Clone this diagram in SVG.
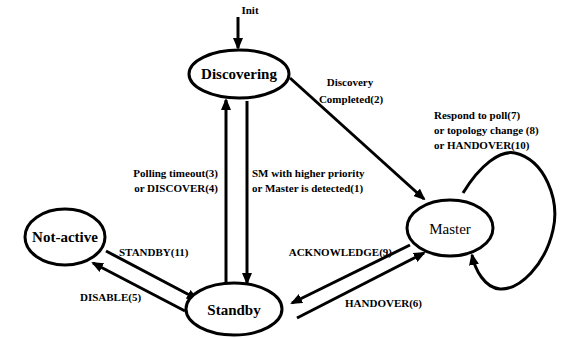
<svg xmlns="http://www.w3.org/2000/svg" width="561" height="338" viewBox="0 0 561 338">
<style>
.node{fill:#fff;stroke:#000;stroke-width:3}
.nt{font-family:'Liberation Serif','Times New Roman','DejaVu Serif',serif;font-weight:bold;font-size:15px;text-anchor:middle}
.lb{font-family:'Liberation Serif','Times New Roman','DejaVu Serif',serif;font-weight:bold;font-size:11px}
.ed{fill:none;stroke:#000;stroke-width:3}
</style>
<defs>
<marker id="ah" markerUnits="userSpaceOnUse" markerWidth="12" markerHeight="10" refX="10" refY="5" orient="auto">
<path d="M0,0 L12,5 L0,10 z" fill="#000"/>
</marker>
</defs>
<rect width="561" height="338" fill="#fff"/>
<g id="connectors">
<line class="ed" x1="238" y1="17" x2="238" y2="48" marker-end="url(#ah)"/>
<line class="ed" x1="226" y1="285" x2="226" y2="100" marker-end="url(#ah)"/>
<line class="ed" x1="247" y1="101" x2="247" y2="283" marker-end="url(#ah)"/>
<line class="ed" x1="290" y1="78" x2="424" y2="199" marker-end="url(#ah)"/>
<line class="ed" x1="106" y1="251" x2="197" y2="299" marker-end="url(#ah)"/>
<line class="ed" x1="185" y1="311" x2="93" y2="263" marker-end="url(#ah)"/>
<line class="ed" x1="410" y1="245" x2="292" y2="303" marker-end="url(#ah)"/>
<line class="ed" x1="297" y1="318" x2="424" y2="253" marker-end="url(#ah)"/>
<path class="ed" d="M463,193 C480,165 500,150 515,153 C545,160 560,200 553,230 C545,265 520,290 500,289 C485,288 475,270 472,255" marker-end="url(#ah)"/>
<text class="lb" x="250" y="14" text-anchor="middle">Init</text>
<text class="lb" x="350" y="86" text-anchor="middle">Discovery</text>
<text class="lb" x="351" y="103" text-anchor="middle">Completed(2)</text>
<text class="lb" x="434" y="119">Respond to poll(7)</text>
<text class="lb" x="434" y="134">or topology change (8)</text>
<text class="lb" x="434" y="149">or HANDOVER(10)</text>
<text class="lb" x="218" y="177" text-anchor="end">Polling timeout(3)</text>
<text class="lb" x="218" y="192" text-anchor="end">or DISCOVER(4)</text>
<text class="lb" x="252" y="177">SM with higher priority</text>
<text class="lb" x="252" y="192">or Master is detected(1)</text>
<text class="lb" x="119" y="256">STANDBY(11)</text>
<text class="lb" x="80" y="301">DISABLE(5)</text>
<text class="lb" x="392" y="256" text-anchor="end">ACKNOWLEDGE(9)</text>
<text class="lb" x="345" y="307">HANDOVER(6)</text>
</g>
<g id="discovering">
<ellipse class="node" cx="239" cy="74" rx="50" ry="24"/>
<text class="nt" x="239" y="79">Discovering</text>
</g>
<g id="not-active">
<ellipse class="node" cx="65" cy="237" rx="40" ry="28"/>
<text class="nt" x="65" y="242">Not-active</text>
</g>
<g id="standby">
<ellipse class="node" cx="234" cy="309" rx="48" ry="26"/>
<text class="nt" x="234" y="315">Standby</text>
</g>
<g id="master">
<ellipse class="node" cx="450" cy="228" rx="43" ry="28"/>
<text class="nt" x="450" y="234" style="font-weight:normal">Master</text>
</g>
</svg>
